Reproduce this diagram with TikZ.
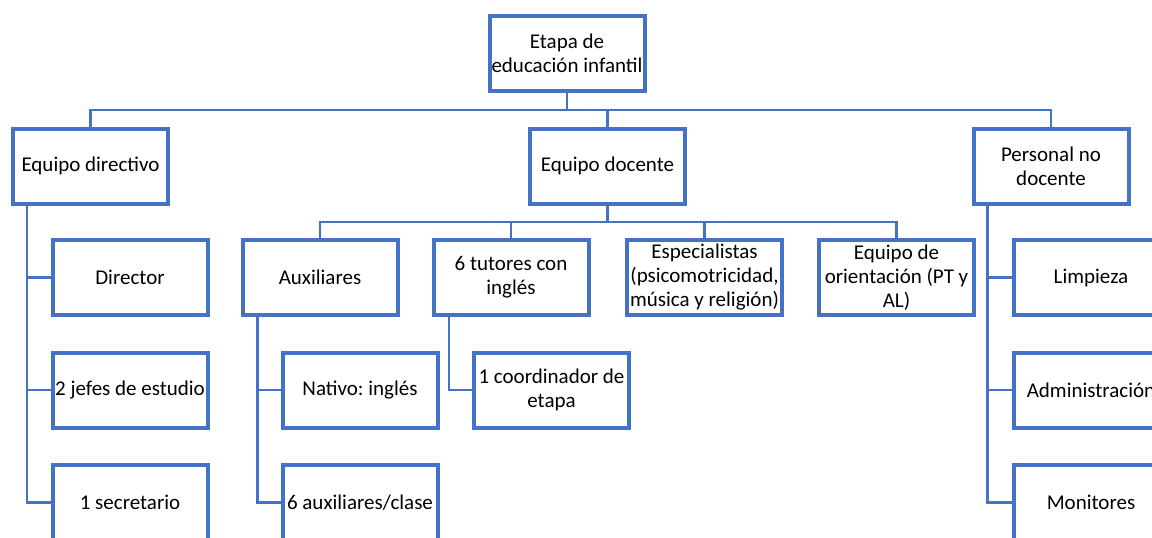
\documentclass[tikz,border=0pt]{standalone}
\usepackage{fontspec}
\setmainfont{Carlito}
\frenchspacing
\definecolor{boxblue}{RGB}{68,114,196}
\begin{document}
\begin{tikzpicture}[x=1pt,y=-1pt,
  box/.style={draw=boxblue,line width=4pt,fill=white,minimum width=155pt,minimum height=75pt,
    inner sep=0pt,align=center,font=\fontsize{21}{24}\selectfont},
  conn/.style={draw=boxblue,line width=2.6pt}]
\useasboundingbox (0,0) rectangle (1152,538);
\clip (0,0) rectangle (1152,538);
\fill[white] (0,0) rectangle (1152,538);
% level 0
\node[box] (root) at (567,53) {Etapa de\\educación infantil};
% level 1
\node[box] (dir) at (90.5,166) {Equipo directivo};
\node[box] (doc) at (607.5,166) {Equipo docente};
\node[box] (pnd) at (1051,166) {Personal no\\docente};
% level 2 row A
\node[box] (director) at (130,277.5) {Director};
\node[box] (aux) at (320,277.5) {Auxiliares};
\node[box] (tut) at (511,277.5) {6 tutores con\\inglés};
\node[box] (esp) at (704.5,277.5) {Especialistas\\(psicomotricidad,\\música y religión)};
\node[box] (ori) at (896.5,277.5) {Equipo de\\orientación (PT y\\AL)};
\node[box] (limp) at (1091,277.5) {Limpieza};
% row B
\node[box] (jefes) at (130,390) {2 jefes de estudio};
\node[box] (nat) at (360,390) {Nativo: inglés};
\node[box] (coord) at (551.5,390) {1 coordinador de\\etapa};
\node[box] (adm) at (1091,390) {Administración};
% row C
\node[box] (sec) at (130,502.5) {1 secretario};
\node[box] (aux6) at (360,502.5) {6 auxiliares/clase};
\node[box] (mon) at (1091,502.5) {Monitores};
% connectors
\coordinate (b1) at (567,110);
\draw[conn] (root.south) -- (b1);
\draw[conn] (b1) -| (dir.north);
\draw[conn] (b1) -| (doc.north);
\draw[conn] (b1) -| (pnd.north);
\coordinate (b2) at (607.5,222);
\draw[conn] (doc.south) -- (b2);
\draw[conn] (b2) -| (aux.north);
\draw[conn] (b2) -| (tut.north);
\draw[conn] (b2) -| (esp.north);
\draw[conn] (b2) -| (ori.north);
\path (dir.south west) ++(16,0) coordinate (d0);
\draw[conn] (d0) |- (director.west);
\draw[conn] (d0) |- (jefes.west);
\draw[conn] (d0) |- (sec.west);
\path (aux.south west) ++(17,0) coordinate (a0);
\draw[conn] (a0) |- (nat.west);
\draw[conn] (a0) |- (aux6.west);
\path (tut.south west) ++(17.5,0) coordinate (t0);
\draw[conn] (t0) |- (coord.west);
\path (pnd.south west) ++(16,0) coordinate (p0);
\draw[conn] (p0) |- (limp.west);
\draw[conn] (p0) |- (adm.west);
\draw[conn] (p0) |- (mon.west);
\end{tikzpicture}
\end{document}
